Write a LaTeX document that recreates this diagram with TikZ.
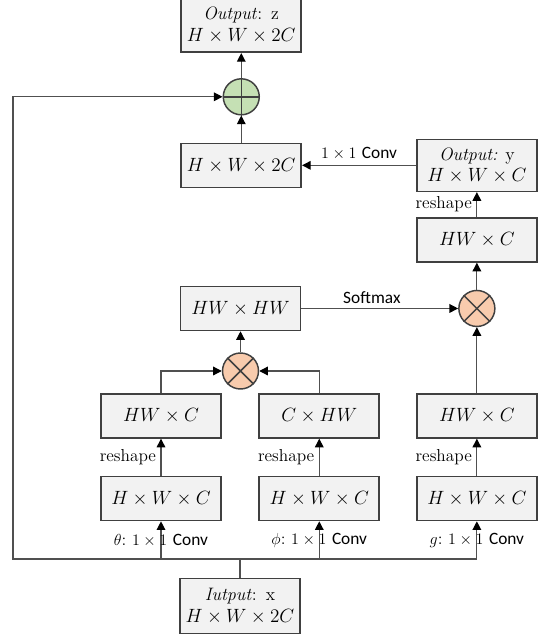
\documentclass[tikz,border=0pt]{standalone}
\usepackage{fontspec}
\usepackage{amsmath}
\usepackage{tikz}
\usetikzlibrary{arrows.meta, positioning}
\newfontfamily\convfont{Carlito}
\definecolor{boxfill}{RGB}{242,242,242}
\definecolor{boxedge}{RGB}{64,64,64}
\definecolor{sumcolor}{RGB}{197,224,180}
\definecolor{mulcolor}{RGB}{248,203,173}
\definecolor{linecolor}{RGB}{80,80,80}

\begin{document}
\begin{tikzpicture}[
    x=0.75pt, y=0.75pt,
    box/.style={draw=boxedge, fill=boxfill, line width=1.2pt, minimum width=90pt,
                minimum height=33pt, align=center, inner sep=2pt,
                font=\fontsize{13.5}{16}\selectfont},
    tallbox/.style={box, minimum height=41pt},
    op/.style={circle, draw=boxedge, line width=1.1pt, minimum size=27pt, inner sep=0pt},
    arrow/.style={-{Triangle[length=6.5pt, width=6.5pt, color=black]}, draw=linecolor,
                  line width=0.9pt},
    lbl/.style={font=\fontsize{13}{15}\selectfont}
  ]
  \useasboundingbox (0,0) rectangle (539,639);

  % Nodes
  \node[tallbox] (xin) at (240,33) {\textit{Iutput}:\enspace x\\$H\times W\times 2C$};

  \node[box] (qth) at (161,140.5) {$H\times W\times C$};
  \node[box, right=27.5pt of qth] (kph) {$H\times W\times C$};
  \node[box, right=27pt of kph]   (vg)  {$H\times W\times C$};

  \node[box, above=27.75pt of qth] (qr) {$HW\times C$};
  \node[box, above=27.75pt of kph] (kr) {$C\times HW$};
  \node[box, above=27.75pt of vg]  (vr) {$HW\times C$};

  \node[op, fill=mulcolor] (mulA) at (240.5,268) {};
  \node[box, above=15.75pt of mulA] (hwhw) {$HW\times HW$};
  \node[op, fill=mulcolor] (mulB) at (hwhw -| vr) {};

  \node[box, above=20.25pt of mulB] (yr) {$HW\times C$};
  \node[tallbox, minimum height=39pt, above=18.75pt of yr] (yout)
        {\textit{Output:} y\\$H\times W\times C$};
  \node[box, left=85.5pt of yout] (zc) {$H\times W\times 2C$};
  \node[op, fill=sumcolor, above=20.25pt of zc] (sum) {};
  \node[tallbox, above=18.75pt of sum] (zout) {\textit{Output}:\enspace z\\$H\times W\times 2C$};

  % Operator marks
  \draw[boxedge, line width=1.1pt] (sum.north) -- (sum.south) (sum.west) -- (sum.east);
  \foreach \m in {mulA, mulB}
    \draw[boxedge, line width=1.1pt] (\m.north west) -- (\m.south east)
                                     (\m.north east) -- (\m.south west);

  % Arrows: input -> branches, skip connection
  \coordinate (bus) at (13,80);
  \draw[arrow] (xin.north) |- (bus) |- (sum.west);
  \draw[arrow] (xin.north |- bus) -| (qth.south)
        node[pos=0.75, lbl]{$\theta$:\ $1\times 1$ {\convfont Conv}};
  \draw[arrow] (xin.north |- bus) -| (kph.south)
        node[pos=0.75, lbl]{$\phi$:\ $1\times 1$ {\convfont Conv}};
  \draw[arrow] (xin.north |- bus) -| (vg.south)
        node[pos=0.75, lbl]{$g$:\ $1\times 1$ {\convfont Conv}};

  % Arrows: reshape
  \draw[arrow] (qth) -- node[left, lbl]{reshape} (qr);
  \draw[arrow] (kph) -- node[left, lbl]{reshape} (kr);
  \draw[arrow] (vg)  -- node[left, lbl]{reshape} (vr);

  % Arrows: attention
  \draw[arrow] (qr.north) |- (mulA.west);
  \draw[arrow] (kr.north) |- (mulA.east);
  \draw[arrow] (mulA) -- (hwhw);
  \draw[arrow] (hwhw) -- node[above, pos=0.45, lbl]{\convfont Softmax} (mulB);
  \draw[arrow] (vr) -- (mulB);
  \draw[arrow] (mulB) -- (yr);
  \draw[arrow] (yr) -- node[left, lbl]{reshape} (yout);
  \draw[arrow] (yout) -- node[above, lbl]{$1\times 1$ {\convfont Conv}} (zc);
  \draw[arrow] (zc) -- (sum);
  \draw[arrow] (sum) -- (zout);
\end{tikzpicture}
\end{document}
